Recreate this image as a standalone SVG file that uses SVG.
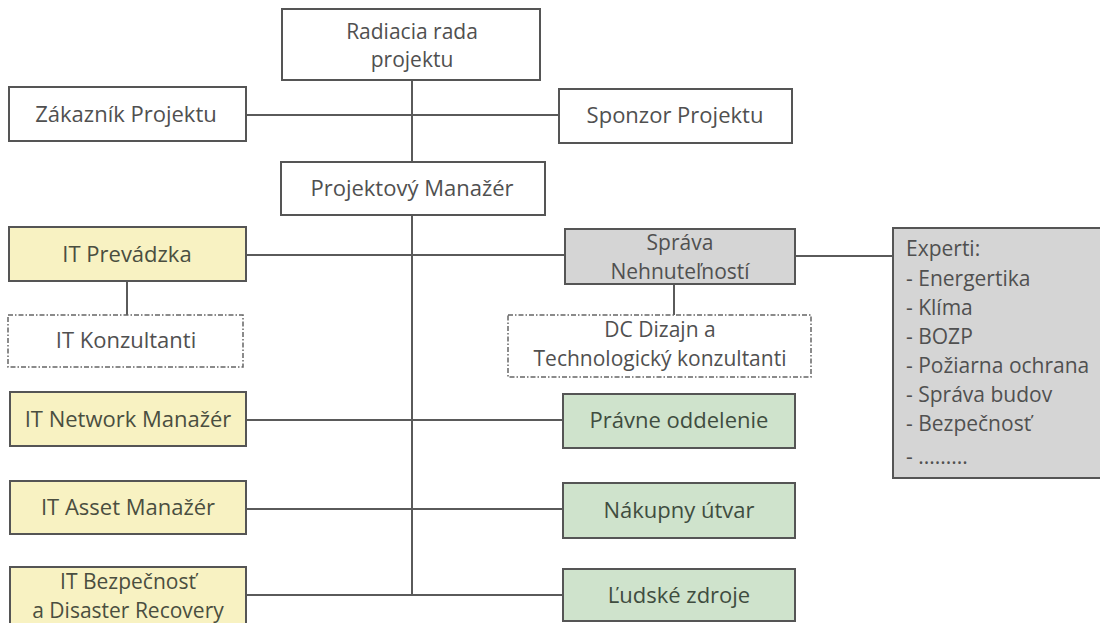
<svg xmlns="http://www.w3.org/2000/svg" width="1100" height="623" viewBox="0 0 1100 623">
<style>
.bx{stroke:#555;stroke-width:2}
.w{fill:#fff}
.y{fill:#f8f2c2}
.g{fill:#cfe3cc}
.gr{fill:#d5d5d5}
.d{fill:#fff;stroke:#666;stroke-width:1.5;stroke-dasharray:5 2 1.5 2}
text{font-family:"Open Sans","Noto Sans",sans-serif;font-size:22px;fill:#505050;text-anchor:middle}
.t2{font-size:21px}
.gt{fill:#3f4d3f}
.yt{fill:#4a4e40}
.l{text-anchor:start;font-size:21px}
#connectors line{stroke:#5a5a5a;stroke-width:2}
</style>
<rect width="1100" height="623" fill="#fff"/>
<g id="connectors">
<line x1="412" y1="80" x2="412" y2="162"/>
<line x1="412" y1="215" x2="412" y2="596"/>
<line x1="246" y1="115" x2="559" y2="115"/>
<line x1="246" y1="255" x2="565" y2="255"/>
<line x1="127" y1="281" x2="127" y2="315"/>
<line x1="674" y1="284" x2="674" y2="315"/>
<line x1="795" y1="256" x2="893" y2="256"/>
<line x1="246" y1="420" x2="563" y2="420"/>
<line x1="246" y1="509" x2="563" y2="509"/>
<line x1="246" y1="595" x2="563" y2="595"/>
</g>
<g id="radiacia">
<rect class="bx w" x="282" y="9" width="258" height="71"/>
<text class="t2" x="412" y="38.5">Radiacia rada</text>
<text class="t2" x="412" y="67.2">projektu</text>
</g>
<g id="zakaznik">
<rect class="bx w" x="9" y="87" width="237" height="54"/>
<text x="126" y="122">Zákazník Projektu</text>
</g>
<g id="sponzor">
<rect class="bx w" x="559" y="89" width="233" height="54"/>
<text x="675" y="123">Sponzor Projektu</text>
</g>
<g id="manazer">
<rect class="bx w" x="281" y="162" width="264" height="53"/>
<text x="412" y="196">Projektový Manažér</text>
</g>
<g id="it-prevadzka">
<rect class="bx y" x="9" y="227" width="237" height="54"/>
<text class="yt" x="127" y="262">IT Prevádzka</text>
</g>
<g id="it-konzultanti">
<rect class="d" x="8" y="315" width="235" height="52"/>
<text x="126" y="348">IT Konzultanti</text>
</g>
<g id="sprava">
<rect class="bx gr" x="565" y="229" width="230" height="55"/>
<text class="t2" x="680" y="250">Správa</text>
<text class="t2" x="680" y="278.7">Nehnuteľností</text>
</g>
<g id="dc-dizajn">
<rect class="d" x="508" y="315" width="303" height="62"/>
<text class="t2" x="660" y="337">DC Dizajn a</text>
<text class="t2" x="660" y="365.7">Technologický konzultanti</text>
</g>
<g id="experti">
<rect class="bx gr" x="893" y="228" width="215" height="250"/>
<text class="l" x="906" y="256">Experti:</text>
<text class="l" x="906" y="286">- Energertika</text>
<text class="l" x="906" y="315">- Klíma</text>
<text class="l" x="906" y="344">- BOZP</text>
<text class="l" x="906" y="373">- Požiarna ochrana</text>
<text class="l" x="906" y="402">- Správa budov</text>
<text class="l" x="906" y="431">- Bezpečnosť</text>
<text class="l" x="906" y="464">- .........</text>
</g>
<g id="it-network">
<rect class="bx y" x="10" y="392" width="236" height="54"/>
<text class="yt" x="128" y="427">IT Network Manažér</text>
</g>
<g id="pravne">
<rect class="bx g" x="563" y="394" width="232" height="54"/>
<text class="gt" x="679" y="428">Právne oddelenie</text>
</g>
<g id="it-asset">
<rect class="bx y" x="10" y="481" width="236" height="53"/>
<text class="yt" x="128" y="515">IT Asset Manažér</text>
</g>
<g id="nakupny">
<rect class="bx g" x="563" y="483" width="232" height="55"/>
<text class="gt" x="679" y="518">Nákupny útvar</text>
</g>
<g id="it-bezpecnost">
<rect class="bx y" x="10" y="567" width="236" height="60"/>
<text class="yt t2" x="128" y="589">IT Bezpečnosť</text>
<text class="yt t2" x="128" y="617.7">a Disaster Recovery</text>
</g>
<g id="ludske">
<rect class="bx g" x="563" y="569" width="232" height="52"/>
<text class="gt" x="679" y="603">Ľudské zdroje</text>
</g>
</svg>
